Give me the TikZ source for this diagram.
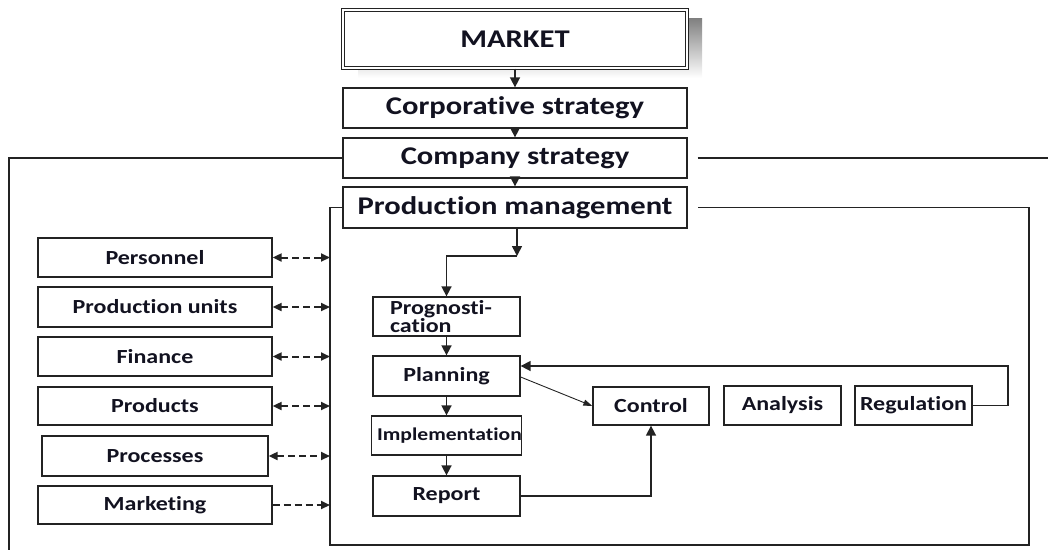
\documentclass[tikz,border=0pt]{standalone}
\usepackage{fontspec}
\setmainfont{Carlito}[FakeStretch=1.2,Ligatures=NoCommon]
\usetikzlibrary{arrows.meta,calc}
\definecolor{txt}{RGB}{18,18,32}
\definecolor{shade}{RGB}{196,196,196}
\definecolor{ln}{RGB}{35,35,35}
\tikzset{
  box/.style={draw=ln,line width=1.3pt,rectangle,inner sep=0pt,text=txt,font=\bfseries\fontsize{20}{22}\selectfont},
  topbox/.style={box,minimum width=344pt,font=\bfseries\fontsize{25.5}{28}\selectfont},
  sidebox/.style={box,minimum width=234pt},
  midbox/.style={box,minimum width=147pt},
  rbox/.style={box,minimum width=117pt,minimum height=39pt},
  arr/.style={draw=ln,line width=1.6pt,-{Triangle[length=10pt,width=10pt]}},
  thinarr/.style={draw=ln,line width=0.9pt,-{Triangle[length=9pt,width=6pt]}},
  dasharr/.style={draw=ln,line width=2pt,dash pattern=on 7pt off 4pt,{Triangle[length=9pt,width=8pt]}-{Triangle[length=9pt,width=8pt]}},
  dasharrone/.style={draw=ln,line width=2pt,dash pattern=on 7pt off 4pt,-{Triangle[length=9pt,width=8pt]}},
  frame/.style={draw=ln,line width=1.3pt}
}
\begin{document}
\begin{tikzpicture}[x=1pt,y=-1pt]
\useasboundingbox (0,0) rectangle (1048,550);
% shadow of MARKET
\fill[shade] (358,18) rectangle (702,78);
\node[topbox,minimum height=58pt,fill=white,double=white,double distance=2.5pt,line width=1.2pt] (market) at (515,39) {MARKET};
\node[topbox,minimum height=40pt] (corp) at (515,108) {Corporative strategy};
\node[topbox,minimum height=40pt] (company) at (515,158) {Company strategy};
\node[topbox,minimum height=41pt] (pm) at (515,207.5) {Production management};
% left boxes
\node[sidebox,minimum height=39pt] (personnel) at (155,257.5) {Personnel};
\node[sidebox,minimum height=40pt] (units) at (155,307) {Production units};
\node[sidebox,minimum height=39pt] (finance) at (155,356.5) {Finance};
\node[sidebox,minimum height=38pt] (products) at (155,406) {Products};
\node[box,minimum width=226pt,minimum height=40pt] (processes) at (155,456) {Processes};
\node[sidebox,minimum height=38pt] (marketing) at (155,505) {Marketing};
% middle column
\node[midbox,minimum height=39pt,align=left,text width=113pt,font=\bfseries\fontsize{20}{18}\selectfont] (prog) at (446.5,316.5) {Prognosti-\\cation};
\node[midbox,minimum height=40pt] (plan) at (446.5,376) {Planning};
\node[midbox,minimum height=39pt,font=\bfseries\fontsize{18}{20}\selectfont] (impl) at (446.5,435.5) {\hspace*{6pt}Implementation};
\node[midbox,minimum height=40pt] (report) at (446.5,496) {Report};
% right row
\node[rbox,minimum width=116pt,minimum height=38pt] (control) at (651,406) {Control};
\node[rbox] (analysis) at (782.5,405.5) {\raisebox{3pt}{Analysis}};
\node[rbox] (regulation) at (913.5,405.5) {Regulation};
% coordinates
\coordinate (ix) at (330,0);
\coordinate (pmj) at (517,256);
\coordinate (rg) at (1008,366);
% outer frame
\draw[frame] (company.west) -- (9,158) -- (9,550);
\draw[frame] ([xshift=10pt]company.east) -- (1048,158);
% inner frame
\draw[frame] (pm.west) -- (330,207.5) -- (330,545) -- (1029,545) -- (1029,207.5) -- ([xshift=10pt]pm.east);
% top arrows
\draw[arr] (market) -- (corp);
\draw[arr] (corp) -- (company);
\draw[arr] (company) -- (pm);
\draw[arr] (pm.south -| pmj) -- (pmj);
\draw[arr] (pmj) -| (prog.north);
\draw[arr] (prog) -- (plan);
\draw[arr] (plan) -- (impl);
\draw[arr] (impl) -- (report);
\draw[thinarr] ([yshift=-1pt]plan.east) -- (control.west);
\draw[arr] (report.east) -| (control.south);
\draw[arr] (regulation.east) -| (rg) -- (rg -| plan.east);
% left dashed arrows
\draw[dasharr] (personnel.east) -- (personnel.east -| ix);
\draw[dasharr] (units.east) -- (units.east -| ix);
\draw[dasharr] (finance.east) -- (finance.east -| ix);
\draw[dasharr] (products.east) -- (products.east -| ix);
\draw[dasharr] (processes.east) -- (processes.east -| ix);
\draw[dasharrone] (marketing.east) -- (marketing.east -| ix);
\end{tikzpicture}
\end{document}
